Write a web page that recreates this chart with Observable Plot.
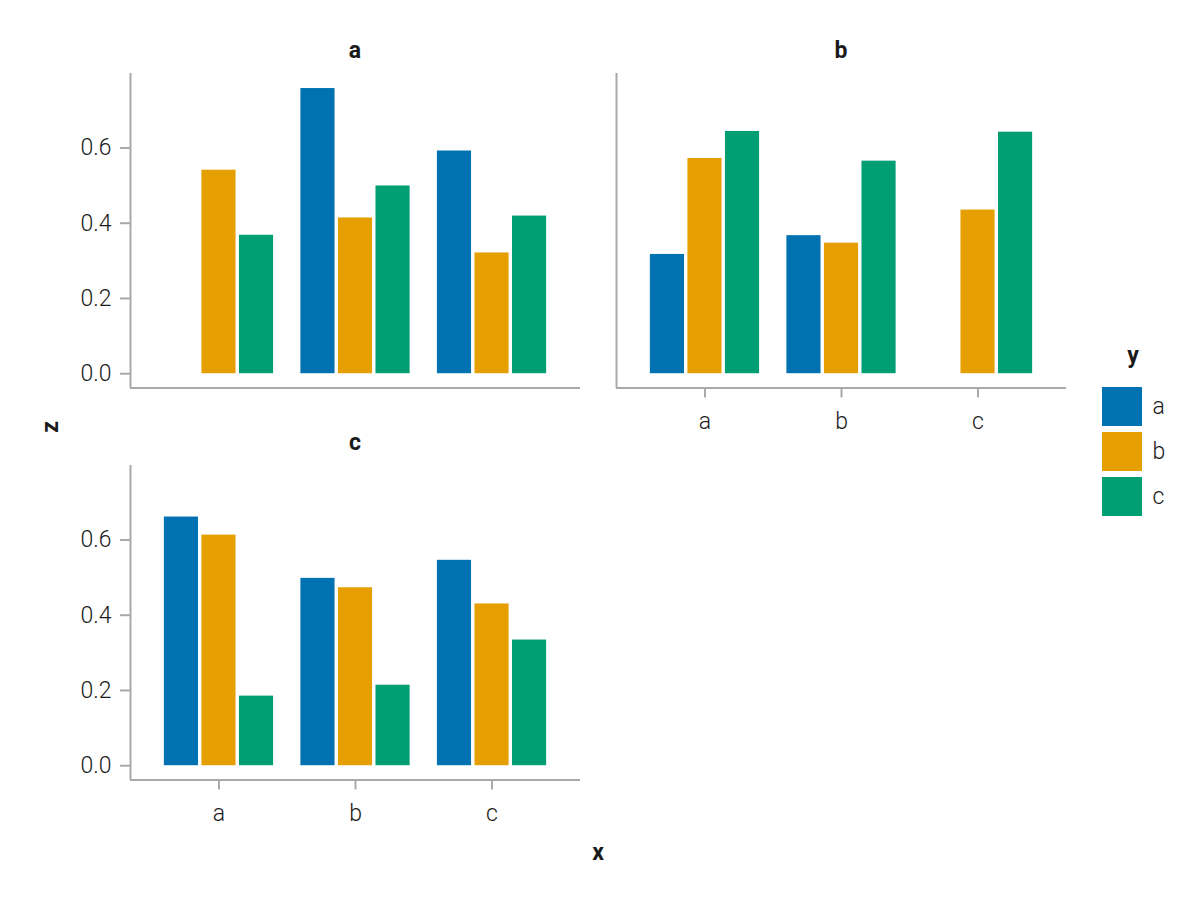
<!DOCTYPE html>
<html>
<head>
<meta charset="utf-8">
<script src="https://cdn.jsdelivr.net/npm/d3@7"></script>
<script src="https://cdn.jsdelivr.net/npm/@observablehq/plot@0.6"></script>
<style>
  html, body { margin: 0; padding: 0; background: #fff; }
  #root { position: relative; width: 1200px; height: 900px; font-family: "Roboto", "Open Sans", sans-serif; color: #1a1a1a; }
  .abs { position: absolute; }
  .title { font-weight: 700; font-size: 23px; transform: translate(-50%, -50%); white-space: nowrap; }
  .lab { font-weight: 700; font-size: 23px; white-space: nowrap; }
</style>
</head>
<body>
<div id="root"></div>
<script>
// ---- data ----
const facets = ["a", "b", "c"];
const xCats = ["a", "b", "c"];
const yGroups = ["a", "b", "c"];
const colors = ["#0072B2", "#E69F00", "#009E73"];
// z values: rows = x category (a, b, c), columns = y group (a, b, c); null = no bar
const zFacetA = [[null, 0.541, 0.368], [0.758, 0.414, 0.499], [0.592, 0.321, 0.419]];
const zFacetB = [[0.317, 0.572, 0.644], [0.367, 0.347, 0.565], [null, 0.435, 0.642]];
const zFacetC = [[0.661, 0.613, 0.185], [0.498, 0.473, 0.214], [0.546, 0.430, 0.334]];
const yTicks = [0, 0.2, 0.4, 0.6];

// ---- layout / style ----
const xDomain = [0.352, 3.648];
const yDomain = [-0.038, 0.798];
const spine = "#a9a9a9";
const font = "Roboto, 'Open Sans', sans-serif";
const groupPitch = 0.275, barHalf = 0.125;

const root = document.getElementById("root");
function place(el, left, top) {
  el.classList.add("abs");
  el.style.left = left + "px";
  el.style.top = top + "px";
  root.appendChild(el);
  return el;
}
function textDiv(txt, cls, left, top, extra) {
  const d = document.createElement("div");
  d.className = cls;
  d.textContent = txt;
  place(d, left, top);
  if (extra) Object.assign(d.style, extra);
  return d;
}

function panel(z, facet, showX, showY, ml, mr) {
  const rows = [];
  xCats.forEach((xc, i) => yGroups.forEach((g, j) => {
    if (z[i][j] != null) rows.push({facet, x: xc, xi: i + 1, y: g, yj: j, z: z[i][j]});
  }));
  return Plot.plot({
    width: 600, height: 440,
    marginLeft: ml, marginRight: mr, marginTop: 73, marginBottom: 52.5,
    style: {fontFamily: font, fontSize: "23px", fontWeight: 300, overflow: "visible", background: "transparent"},
    x: {type: "linear", domain: xDomain, axis: null, label: null},
    y: {domain: yDomain, axis: null, label: null},
    color: {domain: yGroups, range: colors},
    marks: [
      Plot.rect(rows, {
        x1: d => d.xi + (d.yj - 1) * groupPitch - barHalf,
        x2: d => d.xi + (d.yj - 1) * groupPitch + barHalf,
        y1: 0, y2: "z", fill: "y"
      }),
      Plot.ruleX([xDomain[0]], {stroke: spine, strokeWidth: 2}),
      Plot.ruleY([yDomain[0]], {stroke: spine, strokeWidth: 2}),
      showY ? Plot.axisY({ticks: yTicks, tickFormat: d3.format(".1f"), tickSize: 10, tickPadding: 9, label: null,
                          stroke: spine, strokeWidth: 2, strokeOpacity: 1, fill: "#1a1a1a"}) : null,
      showX ? Plot.axisX({ticks: [1, 2, 3], tickFormat: i => xCats[i - 1], tickSize: 10, tickPadding: 15, label: null,
                          stroke: spine, strokeWidth: 2, strokeOpacity: 1, fill: "#1a1a1a"}) : null
    ]
  });
}

place(panel(zFacetA, "a", false, true, 130, 20), 0, 0);
place(panel(zFacetB, "b", true, false, 16, 134), 600, 0);
place(panel(zFacetC, "c", true, true, 130, 20), 0, 392);

// facet titles
textDiv(facets[0], "title", 355, 50);
textDiv(facets[1], "title", 841, 50);
textDiv(facets[2], "title", 355, 442);

// axis labels
textDiv("x", "lab", 598, 852, {transform: "translate(-50%, -50%)"});
textDiv("z", "lab", 50, 427, {transform: "translate(-50%, -50%) rotate(-90deg)"});

// legend
textDiv("y", "title", 1133, 355);
const legend = Plot.plot({
  width: 90, height: 132,
  marginLeft: 0, marginRight: 50, marginTop: 0, marginBottom: 0,
  style: {fontFamily: font, fontSize: "23px", fontWeight: 300, overflow: "visible", background: "transparent"},
  x: {axis: null},
  y: {domain: yGroups, axis: null, paddingInner: 0.1304, paddingOuter: 0},
  color: {domain: yGroups, range: colors},
  marks: [
    Plot.cell(yGroups, {y: d => d, fill: d => d}),
    Plot.text(yGroups, {y: d => d, text: d => d, frameAnchor: "right", textAnchor: "start", dx: 10, fill: "#1a1a1a"})
  ]
});
place(legend, 1102, 386);
</script>
</body>
</html>
